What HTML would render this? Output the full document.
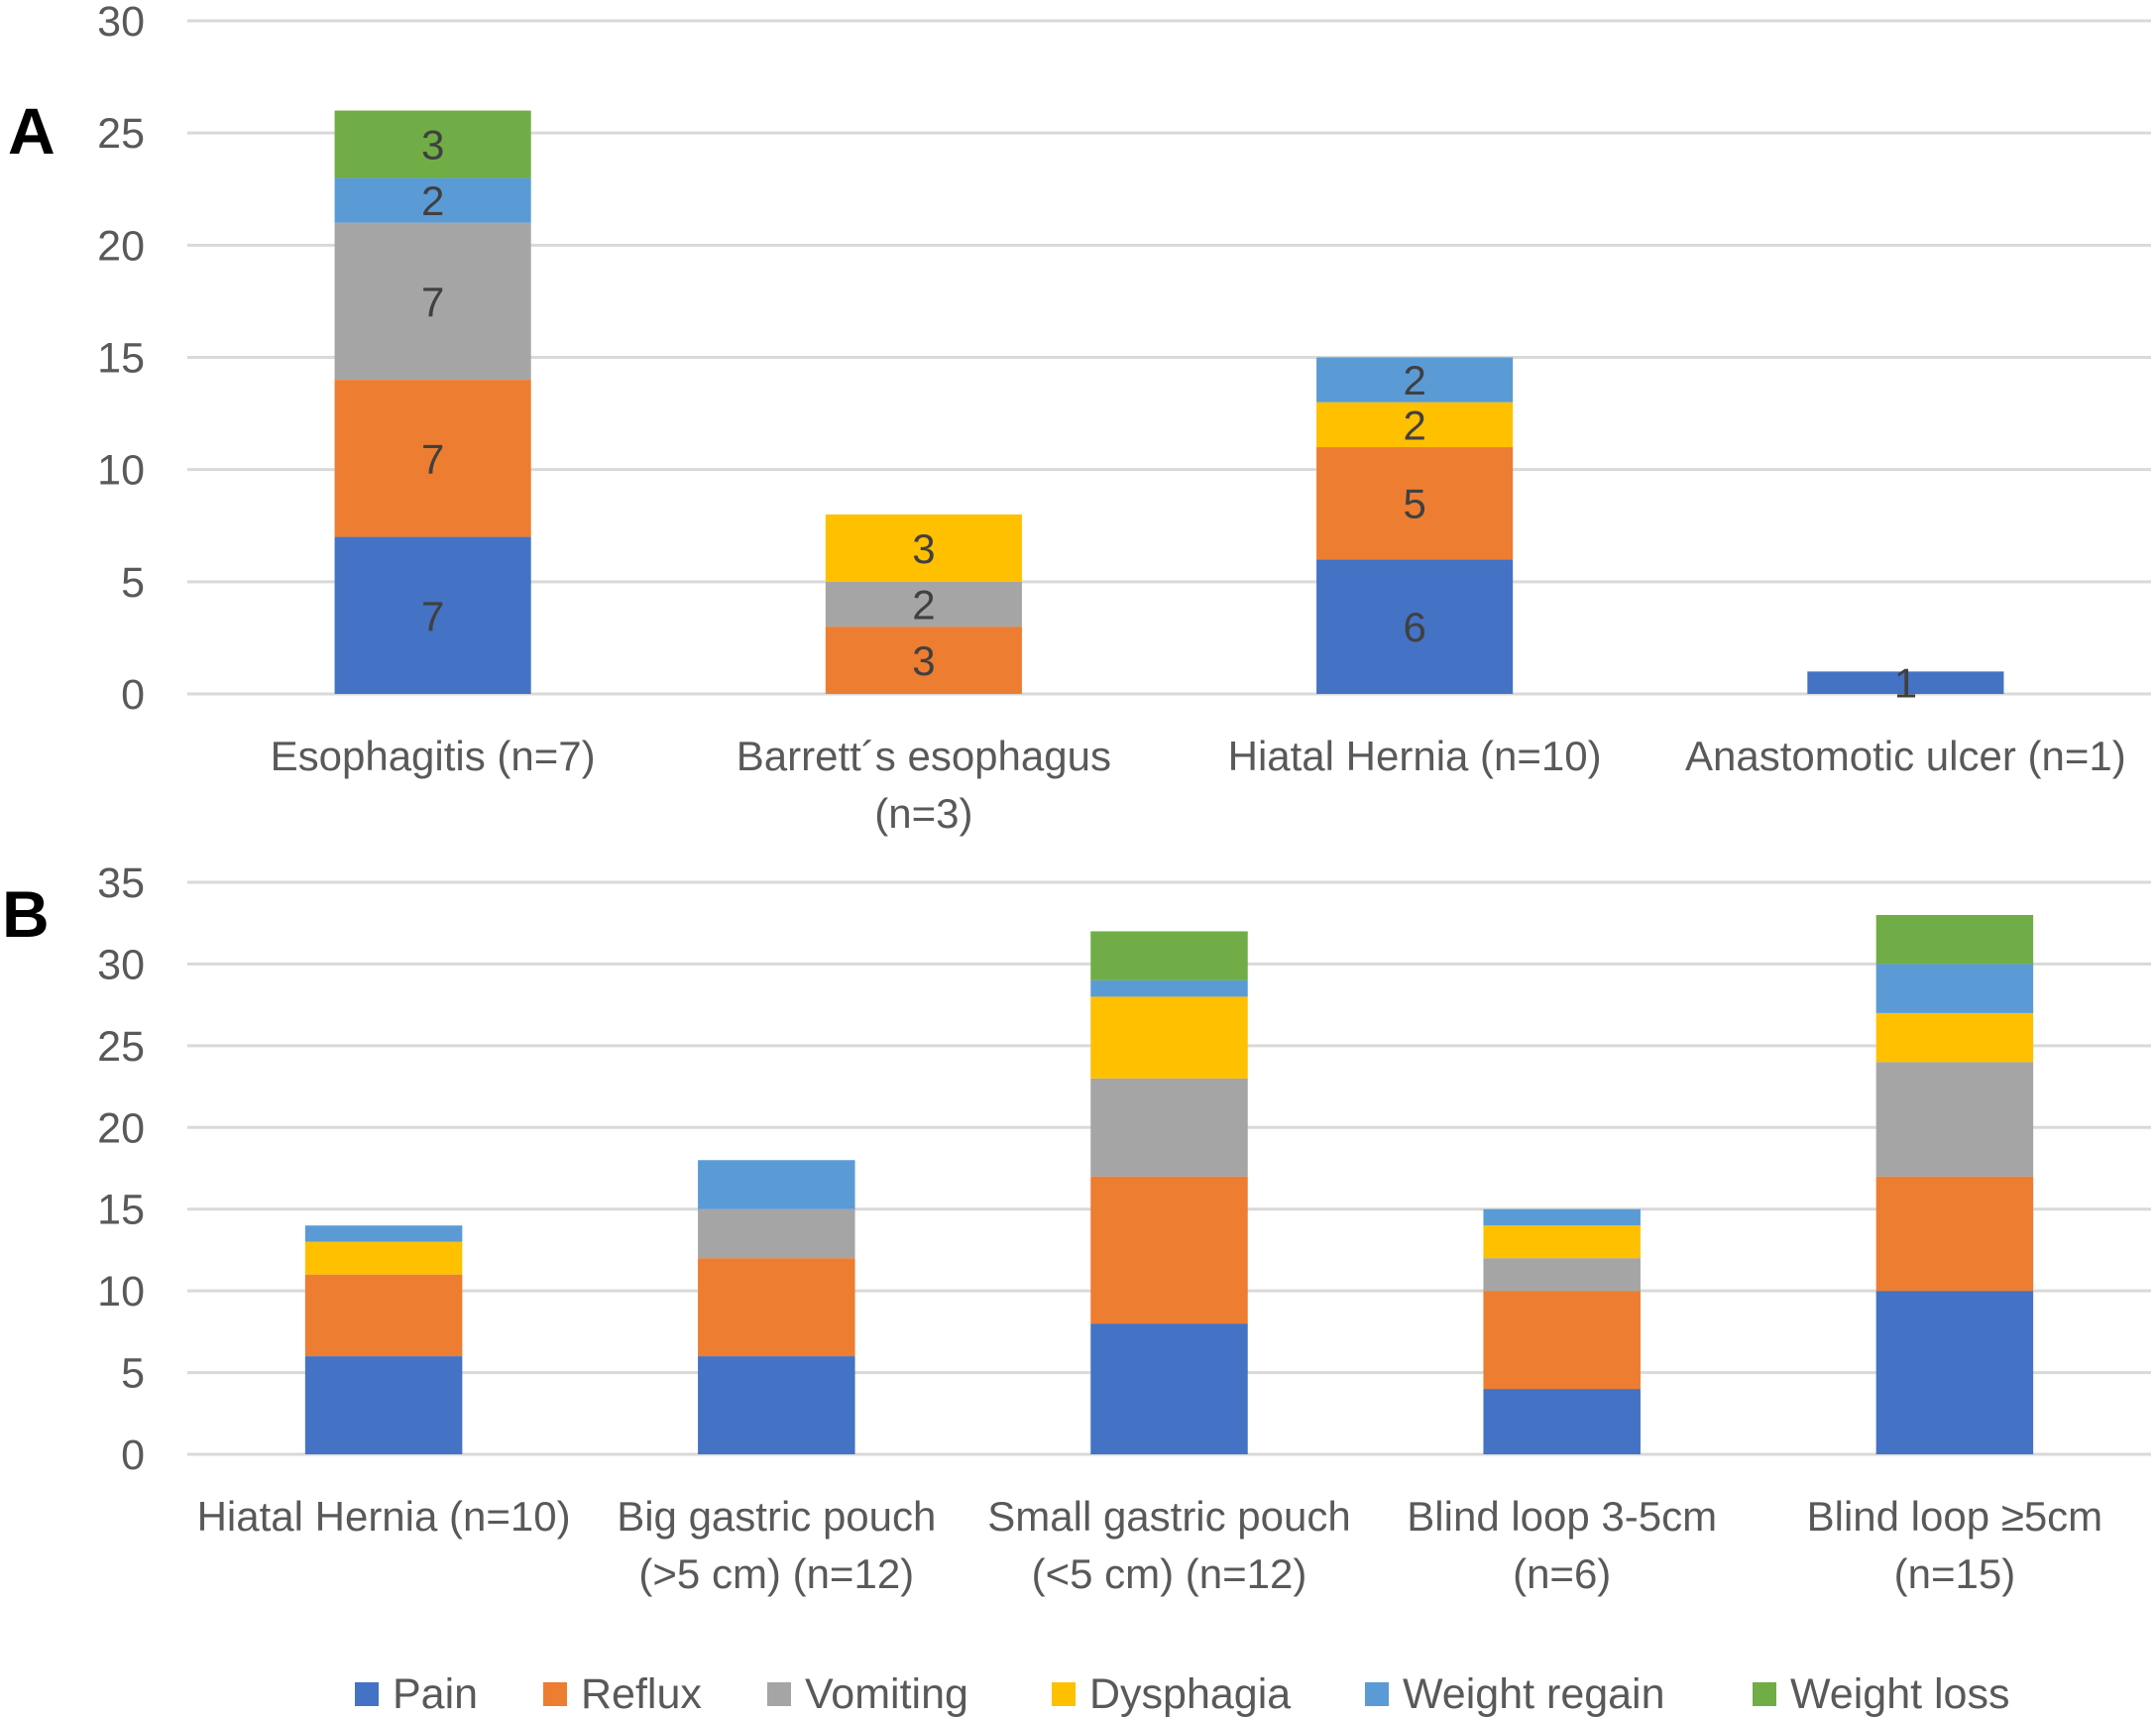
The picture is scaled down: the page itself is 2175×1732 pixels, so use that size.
<!DOCTYPE html>
<html><head><meta charset="utf-8"><style>
html,body{margin:0;padding:0;background:#fff;}
svg{display:block;font-family:"Liberation Sans",sans-serif;}
</style></head><body>
<svg id="chart" width="2175" height="1732" viewBox="0 0 2175 1732" xmlns="http://www.w3.org/2000/svg">
<text x="8" y="155" font-size="66" font-weight="bold" fill="#000">A</text>
<text x="2" y="945" font-size="66" font-weight="bold" fill="#000">B</text>
<g id="gA"></g>
<g id="gB"></g>
<g id="legend"></g>
</svg>
<script>
const seriesNames = ["Pain","Reflux","Vomiting","Dysphagia","Weight regain","Weight loss"];
const seriesColors = ["#4472C4","#ED7D31","#A5A5A5","#FFC000","#5B9BD5","#70AD47"];
const catsA = [["Esophagitis (n=7)"],["Barrett´s esophagus","(n=3)"],["Hiatal Hernia (n=10)"],["Anastomotic ulcer (n=1)"]];
const painA = [7,0,6,1];
const refluxA = [7,3,5,0];
const vomitA = [7,2,0,0];
const dysA = [0,3,2,0];
const regainA = [2,0,2,0];
const lossA = [3,0,0,0];
const ticksA = [0,5,10,15,20,25,30];
const catsB = [["Hiatal Hernia (n=10)"],["Big gastric pouch","(>5 cm) (n=12)"],["Small gastric pouch","(<5 cm) (n=12)"],["Blind loop 3-5cm","(n=6)"],["Blind loop ≥5cm","(n=15)"]];
const painB = [6,6,8,4,10];
const refluxB = [5,6,9,6,7];
const vomitB = [0,3,6,2,7];
const dysB = [2,0,5,2,3];
const regainB = [1,3,1,1,3];
const lossB = [0,0,3,0,3];
const ticksB = [0,5,10,15,20,25,30,35];

const NS="http://www.w3.org/2000/svg";
function mk(tag,attrs,parent){const e=document.createElementNS(NS,tag);for(const k in attrs)e.setAttribute(k,attrs[k]);parent.appendChild(e);return e;}

function drawPanel(g,cats,series,ticks,y0,yTop,showLabels,labelY,prefix){
  const x0=189,x1=2170,max=ticks[ticks.length-1];
  const y=v=>y0-(v/max)*(y0-yTop);
  const cw=(x1-x0)/cats.length;
  ticks.forEach(t=>{
    const l=mk('line',{x1:x0,x2:x1,y1:y(t),y2:y(t),stroke:'#d9d9d9','stroke-width':3},g);
    
    
    const tx=mk('text',{x:146,y:y(t)+15,'text-anchor':'end','font-size':43,fill:'#595959'},g);
    tx.textContent=t;
    
    
  });
  cats.forEach((c,i)=>{
    const cx=x0+cw*(i+0.5),bw=cw*0.4;
    let acc=0;
    series.forEach((s,j)=>{
      const v=s[i]; if(!v) return;
      const r=mk('rect',{x:cx-bw/2,y:y(acc+v),width:bw,height:y(acc)-y(acc+v),fill:seriesColors[j]},g);
      
      
      if(showLabels){
        const t=mk('text',{x:cx,y:(y(acc)+y(acc+v))/2+15,'text-anchor':'middle','font-size':42,fill:'#404040'},g);
        t.textContent=v;
        
        
      }
      acc+=v;
    });
    c.forEach((line,k)=>{
      const t=mk('text',{x:cx,y:labelY+k*58,'text-anchor':'middle','font-size':42,fill:'#595959'},g);
      t.textContent=line;
      
      
    });
  });
}
drawPanel(document.getElementById('gA'),catsA,[painA,refluxA,vomitA,dysA,regainA,lossA],ticksA,700,21,true,777,'a');
drawPanel(document.getElementById('gB'),catsB,[painB,refluxB,vomitB,dysB,regainB,lossB],ticksB,1467,890,false,1544,'b');

const legendX=[358,548,774,1061,1377,1768];
const lg=document.getElementById('legend');
seriesNames.forEach((n,i)=>{
  const r=mk('rect',{x:legendX[i],y:1697,width:24,height:24,fill:seriesColors[i]},lg);
  
  
  const t=mk('text',{x:legendX[i]+38,y:1723,'font-size':43,fill:'#595959'},lg);
  t.textContent=n;
  
  
});
</script>
</body></html>
